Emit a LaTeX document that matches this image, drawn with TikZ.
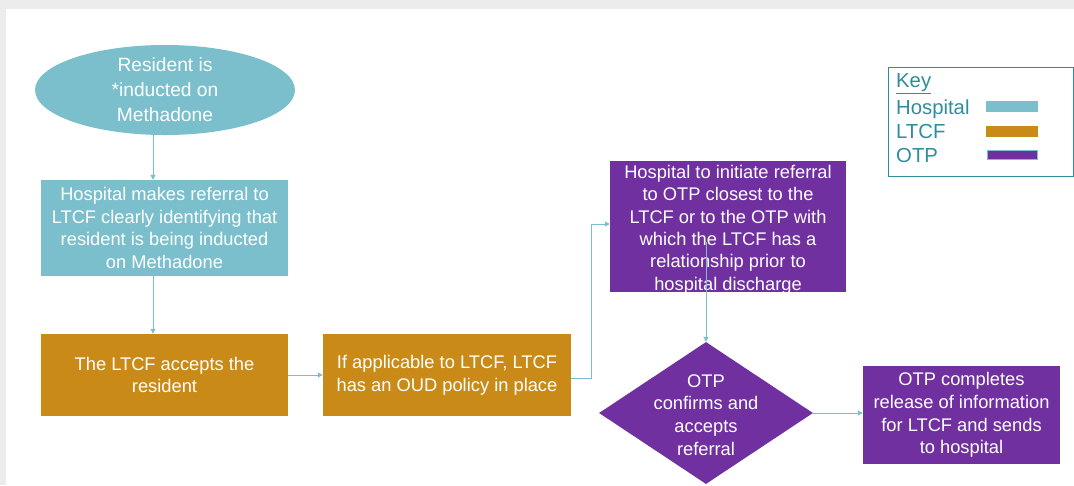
\documentclass[tikz,border=0pt]{standalone}
\usepackage{fontspec}
\setmainfont{Liberation Sans}
\usetikzlibrary{shapes.geometric,arrows.meta}
\definecolor{hosp}{HTML}{7ABFCB}
\definecolor{ltcf}{HTML}{C98A17}
\definecolor{otp}{HTML}{7030A0}
\definecolor{keyc}{HTML}{2E8E9C}
\definecolor{bord}{HTML}{ECECEC}
\tikzset{
  box/.style={rectangle, inner sep=0pt, text=white, align=center,
    font=\fontsize{18.3}{22.8}\selectfont},
  conn/.style={draw=hosp, line width=1pt, -{Triangle[length=5pt,width=5pt]}},
  txt/.style={text=white, align=center, inner sep=0pt, font=\fontsize{19.2}{25}\selectfont},
  keytxt/.style={text=keyc, anchor=west, inner sep=0pt, font=\fontsize{20.3}{22}\selectfont},
  swatch/.style={rectangle, inner sep=0pt, minimum width=52pt, minimum height=11pt}
}
\begin{document}
\begin{tikzpicture}[x=1pt,y=-1pt]
\useasboundingbox (0,0) rectangle (1074,485);
\fill[bord] (0,0) rectangle (1074,485);
\fill[white] (6,9) rectangle (1074,485);

% start ellipse
\node[ellipse, fill=hosp, minimum width=260pt, minimum height=90pt, inner sep=0pt] (start) at (165,90) {};
\node[txt] (starttxt) at (165,90) {Resident is\\*inducted on\\Methadone};

% boxes
\node[box, fill=hosp, minimum width=247pt, minimum height=96pt] (ref) at (164.5,228)
  {Hospital makes referral to\\LTCF clearly identifying that\\resident is being inducted\\on Methadone};
\node[box, fill=ltcf, minimum width=247pt, minimum height=82pt] (acc) at (164.5,375)
  {The LTCF accepts the\\resident};
\node[box, fill=ltcf, minimum width=248pt, minimum height=82pt] (oud) at (447,375)
  {If applicable to LTCF, LTCF\\has an OUD policy in place};
\node[box, fill=otp, minimum width=236pt, minimum height=131pt] (init) at (728,226.5) {};
\node[box, font=\fontsize{18.3}{22.4}\selectfont] (inittxt) at (728,229.5)
  {Hospital to initiate referral\\to OTP closest to the\\LTCF or to the OTP with\\which the LTCF has a\\relationship prior to\\hospital discharge};
\node[diamond, fill=otp, minimum width=214pt, minimum height=142pt, inner sep=0pt] (conf) at (706,413) {};
\node[box] (conftxt) at (706,415) {OTP\\confirms and\\accepts\\referral};
\node[box, fill=otp, minimum width=197pt, minimum height=98pt] (rel) at (961.5,415)
  {OTP completes\\release of information\\for LTCF and sends\\to hospital};

% connectors
\draw[conn] (start.south -| 153,0) -- (ref.north -| 153,0);
\draw[conn] (ref.south -| 153,0) -- (acc.north -| 153,0);
\draw[conn] (acc.east) -- (oud.east -| oud.west);
\coordinate (c1) at (591,378);
\coordinate (c2) at (591,224);
\draw[conn] (oud.east |- c1) -- (c1) -- (c2) -- (init.west |- c2);
\coordinate (c3) at (706,242);
\draw[conn] (c3) -- (conf.north);
\draw[conn] (conf.east) -- (rel.west |- conf.east);

% key
\node[draw=keyc, line width=0.8pt, rectangle, minimum width=185pt, minimum height=109pt, inner sep=0pt] (key) at (980.5,121.5) {};
\node[keytxt] (keyh) at (896,84) {\underline{Key}};
\node[keytxt] (k1) at (896,109) {Hospital};
\node[keytxt] (k2) at (896,132) {LTCF};
\node[keytxt] (k3) at (896,156) {OTP};
\node[swatch, fill=hosp] (s1) at (1012,106) {};
\node[swatch, fill=ltcf] (s2) at (1012,131) {};
\node[swatch, fill=otp, draw=hosp, line width=1pt, minimum width=50pt, minimum height=9pt] (s3) at (1012,155) {};
\end{tikzpicture}
\end{document}
